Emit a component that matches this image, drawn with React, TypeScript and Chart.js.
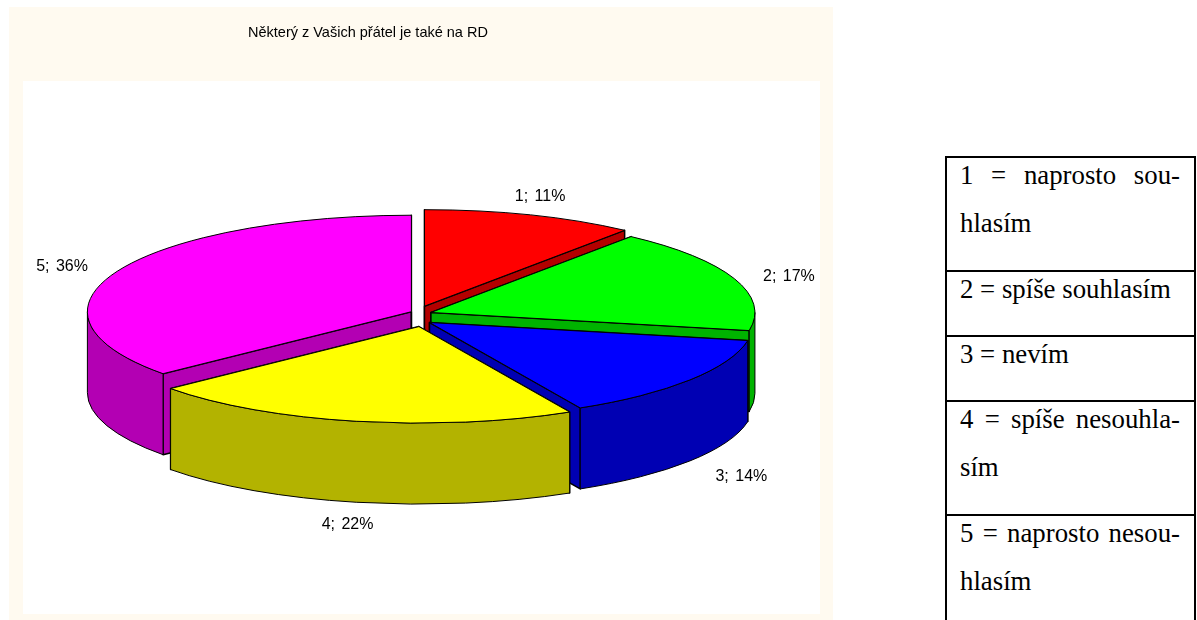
import React, { useEffect, useRef } from "react";
import { Chart, registerables } from "chart.js";

Chart.register(...registerables);

const categories = ["1", "2", "3", "4", "5"];
const shares = [10.6, 17.4, 14.3, 21.6, 36.1];
const topColors = ["#FF0000", "#00FF00", "#0000FF", "#FFFF00", "#FF00FF"];
const wallColors = ["#B30000", "#00B300", "#0000B3", "#B3B300", "#B300B3"];
const paintOrder = [0, 1, 4, 2, 3];
const chartTitle = "Některý z Vašich přátel je také na RD";
const legendRows = [
  ["1 = naprosto sou-", "hlasím"],
  ["2 = spíše souhlasím"],
  ["3 = nevím"],
  ["4 = spíše nesouhla-", "sím"],
  ["5 = naprosto nesou-", "hlasím"],
];

const RX = 324;
const RY = 96.5;
const DEPTH = 81;
const EXPLODE = 10.6;
const LABEL_RX = 395;
const LABEL_RY = 125;
const LABEL_FONT = '16px "Liberation Sans", Arial, sans-serif';
const LABEL_NUDGE_X = [-10, -2, 3, 3, -1];
const LABEL_NUDGE_Y = [-4, 1, 2, 2, 0];

const pie3d = {
  id: "pie3d",
  beforeDatasetDraw(chart: any, args: any) {
    const ctx = chart.ctx;
    const arcs = args.meta.data;
    ctx.save();
    ctx.strokeStyle = "#000";
    ctx.lineJoin = "round";
    for (const i of paintOrder) {
      const arc = arcs[i];
      const a = arc.startAngle;
      const b = arc.endAngle;
      const mid = (a + b) / 2;
      const cx = arc.x + EXPLODE * Math.cos(mid);
      const cy = arc.y + EXPLODE * Math.sin(mid);
      const px = (t: number) => cx + RX * Math.cos(t);
      const py = (t: number) => cy + RY * Math.sin(t);

      // radial walls
      ctx.fillStyle = wallColors[i];
      ctx.lineWidth = 1.5;
      for (const t of [a, b]) {
        ctx.beginPath();
        ctx.moveTo(cx, cy);
        ctx.lineTo(px(t), py(t));
        ctx.lineTo(px(t), py(t) + DEPTH);
        ctx.lineTo(cx, cy + DEPTH);
        ctx.closePath();
        ctx.fill();
        ctx.stroke();
      }

      // outer curved wall: only the part that faces the viewer
      ctx.lineWidth = 1;
      const from = Math.max(a, 0);
      const to = Math.min(b, Math.PI);
      if (to > from) {
        ctx.beginPath();
        ctx.ellipse(cx, cy, RX, RY, 0, from, to);
        ctx.lineTo(px(to), py(to) + DEPTH);
        ctx.ellipse(cx, cy + DEPTH, RX, RY, 0, to, from, true);
        ctx.closePath();
        ctx.fill();
        ctx.stroke();
      }

      // top face, drawn by the library's own arc element
      const sx = RX / arc.outerRadius;
      const sy = RY / arc.outerRadius;
      ctx.save();
      ctx.translate(cx, cy);
      ctx.scale(sx, sy);
      ctx.translate(-arc.x, -arc.y);
      arc.draw(ctx);
      ctx.restore();

      ctx.beginPath();
      ctx.moveTo(cx, cy);
      ctx.ellipse(cx, cy, RX, RY, 0, a, b);
      ctx.closePath();
      ctx.stroke();
    }
    ctx.restore();
    return false;
  },
  afterDatasetsDraw(chart: any) {
    const ctx = chart.ctx;
    const arcs = chart.getDatasetMeta(0).data;
    ctx.save();
    ctx.font = LABEL_FONT;
    ctx.wordSpacing = "2px";
    ctx.fillStyle = "#000";
    ctx.textAlign = "center";
    ctx.textBaseline = "middle";
    arcs.forEach((arc: any, i: number) => {
      const mid = (arc.startAngle + arc.endAngle) / 2;
      const s = Math.sin(mid);
      const x = arc.x + LABEL_RX * Math.cos(mid) + LABEL_NUDGE_X[i];
      const y = arc.y + LABEL_RY * s + (s > 0 ? DEPTH : 0) + 3 + LABEL_NUDGE_Y[i];
      ctx.fillText(`${categories[i]}; ${Math.round(shares[i])}%`, x, y);
    });
    ctx.restore();
  },
};

export default function App() {
  const ref = useRef<HTMLCanvasElement>(null);
  useEffect(() => {
    const chart = new Chart(ref.current as HTMLCanvasElement, {
      type: "pie",
      data: {
        labels: categories,
        datasets: [
          {
            data: shares,
            backgroundColor: topColors,
            borderWidth: 0,
          },
        ],
      },
      options: {
        animation: false,
        responsive: false,
        events: [],
        layout: { padding: { left: 239, right: 239, bottom: 30 } },
        plugins: {
          legend: { display: false },
          tooltip: { enabled: false },
          title: {
            display: true,
            text: chartTitle,
            align: "start",
            color: "#000",
            font: { family: '"Liberation Sans", Arial, sans-serif', size: 14.5, weight: "normal" },
            padding: { top: 17, bottom: 1 },
          },
        },
      },
      plugins: [pie3d],
    } as any);
    return () => chart.destroy();
  }, []);

  return (
    <div style={{ position: "fixed", inset: 0, overflow: "hidden", background: "#fff" }}>
      <div style={{ position: "absolute", left: 9, top: 7, width: 824, height: 613, background: "#FFFAF0" }} />
      <div style={{ position: "absolute", left: 23, top: 81, width: 797, height: 533, background: "#fff" }} />
      <canvas ref={ref} width={824} height={613} style={{ position: "absolute", left: 9, top: 7 }} />
      <table
        style={{
          position: "absolute",
          left: 945,
          top: 156,
          width: 251,
          borderCollapse: "collapse",
          tableLayout: "fixed",
          fontFamily: '"Liberation Serif", "Times New Roman", serif',
          fontSize: 26.8,
          lineHeight: "48px",
          color: "#000",
        }}
      >
        <tbody>
          {legendRows.map((lines, r) => (
            <tr key={r}>
              <td
                style={{
                  border: "2px solid #000",
                  padding: "0 14px 0 13px",
                  height: lines.length === 2 ? 112 : 63,
                  verticalAlign: "top",
                }}
              >
                <div style={{ position: "relative", top: -7, height: lines.length * 48 - 14 }}>
                  {lines.map((line, l) => (
                    <div
                      key={l}
                      style={{ textAlign: "justify", textAlignLast: l === 0 && lines.length === 2 ? "justify" : "left" }}
                    >
                      {line}
                    </div>
                  ))}
                </div>
              </td>
            </tr>
          ))}
        </tbody>
      </table>
    </div>
  );
}
